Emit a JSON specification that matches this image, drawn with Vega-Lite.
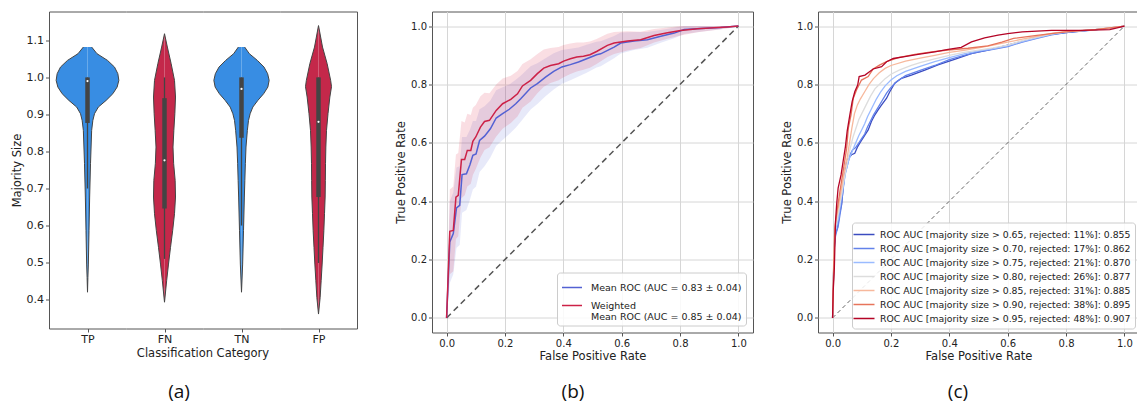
{
  "$schema": "https://vega.github.io/schema/vega-lite/v6.json",
  "padding": {"left": 11, "top": 10.5, "right": 0, "bottom": 0},
  "config": {
    "font": "DejaVu Sans",
    "view": {"stroke": "#555555", "strokeWidth": 1},
    "axis": {"labelFont": "DejaVu Sans", "titleFont": "DejaVu Sans", "labelColor": "#222222", "titleColor": "#222222", "titleFontWeight": "normal", "titleFontSize": 11.5, "labelFontSize": 10, "tickColor": "#555555", "domainColor": "#555555", "tickSize": 3.5, "labelPadding": 2, "gridColor": "#d6d6d6", "gridWidth": 1, "titlePadding": 4},
    "legend": {"labelFont": "DejaVu Sans", "labelFontSize": 9.5, "labelColor": "#222222", "symbolType": "stroke", "symbolStrokeWidth": 1.5, "symbolSize": 400, "labelLimit": 0, "fillColor": "rgba(255,255,255,0.85)", "strokeColor": "#cccccc", "cornerRadius": 3, "padding": 4, "orient": "bottom-right", "offset": 5, "rowPadding": 2, "labelOffset": 8},
    "title": {"font": "Open Sans", "fontSize": 19, "fontWeight": "normal", "color": "#111111", "anchor": "middle"}
  },
  "datasets": {
    "violin": [
      {"cat": "TP", "v": 1.082, "h": 4.15}, {"cat": "TP", "v": 1.064, "h": 9.5}, {"cat": "TP", "v": 1.046, "h": 20}, {"cat": "TP", "v": 1.028, "h": 27}, {"cat": "TP", "v": 1.01, "h": 30.35}, {"cat": "TP", "v": 0.992, "h": 31.35}, {"cat": "TP", "v": 0.974, "h": 29.65}, {"cat": "TP", "v": 0.956, "h": 25.35}, {"cat": "TP", "v": 0.938, "h": 18.65}, {"cat": "TP", "v": 0.92, "h": 10.85}, {"cat": "TP", "v": 0.902, "h": 7}, {"cat": "TP", "v": 0.884, "h": 5.35}, {"cat": "TP", "v": 0.857, "h": 4.15}, {"cat": "TP", "v": 0.767, "h": 3}, {"cat": "TP", "v": 0.677, "h": 2.15}, {"cat": "TP", "v": 0.586, "h": 1.5}, {"cat": "TP", "v": 0.496, "h": 0.85}, {"cat": "TP", "v": 0.46, "h": 0.4}, {"cat": "TP", "v": 0.42, "h": 0},
      {"cat": "FN", "v": 1.118, "h": 0}, {"cat": "FN", "v": 1.082, "h": 2.85}, {"cat": "FN", "v": 1.037, "h": 6.65}, {"cat": "FN", "v": 0.992, "h": 10}, {"cat": "FN", "v": 0.947, "h": 11}, {"cat": "FN", "v": 0.902, "h": 10.35}, {"cat": "FN", "v": 0.857, "h": 9.35}, {"cat": "FN", "v": 0.812, "h": 8.5}, {"cat": "FN", "v": 0.767, "h": 9.15}, {"cat": "FN", "v": 0.722, "h": 10.65}, {"cat": "FN", "v": 0.677, "h": 11}, {"cat": "FN", "v": 0.632, "h": 10}, {"cat": "FN", "v": 0.586, "h": 8.15}, {"cat": "FN", "v": 0.541, "h": 6}, {"cat": "FN", "v": 0.496, "h": 4}, {"cat": "FN", "v": 0.451, "h": 2.15}, {"cat": "FN", "v": 0.393, "h": 0},
      {"cat": "TN", "v": 1.082, "h": 3.15}, {"cat": "TN", "v": 1.064, "h": 7.85}, {"cat": "TN", "v": 1.046, "h": 15.85}, {"cat": "TN", "v": 1.028, "h": 22.5}, {"cat": "TN", "v": 1.01, "h": 26.15}, {"cat": "TN", "v": 0.992, "h": 27.65}, {"cat": "TN", "v": 0.974, "h": 26.35}, {"cat": "TN", "v": 0.956, "h": 22.15}, {"cat": "TN", "v": 0.938, "h": 16.35}, {"cat": "TN", "v": 0.92, "h": 11.35}, {"cat": "TN", "v": 0.902, "h": 8.65}, {"cat": "TN", "v": 0.884, "h": 7}, {"cat": "TN", "v": 0.857, "h": 5.85}, {"cat": "TN", "v": 0.812, "h": 4.5}, {"cat": "TN", "v": 0.767, "h": 3.85}, {"cat": "TN", "v": 0.722, "h": 3.35}, {"cat": "TN", "v": 0.677, "h": 2.85}, {"cat": "TN", "v": 0.586, "h": 2}, {"cat": "TN", "v": 0.496, "h": 1.15}, {"cat": "TN", "v": 0.42, "h": 0},
      {"cat": "FP", "v": 1.14, "h": 0}, {"cat": "FP", "v": 1.082, "h": 4}, {"cat": "FP", "v": 1.037, "h": 8.65}, {"cat": "FP", "v": 0.992, "h": 12.15}, {"cat": "FP", "v": 0.975, "h": 13}, {"cat": "FP", "v": 0.947, "h": 11.35}, {"cat": "FP", "v": 0.902, "h": 9.5}, {"cat": "FP", "v": 0.857, "h": 8}, {"cat": "FP", "v": 0.812, "h": 7.35}, {"cat": "FP", "v": 0.767, "h": 7}, {"cat": "FP", "v": 0.722, "h": 6.85}, {"cat": "FP", "v": 0.677, "h": 6.65}, {"cat": "FP", "v": 0.632, "h": 6}, {"cat": "FP", "v": 0.586, "h": 5.35}, {"cat": "FP", "v": 0.541, "h": 4.5}, {"cat": "FP", "v": 0.496, "h": 3.65}, {"cat": "FP", "v": 0.451, "h": 2.65}, {"cat": "FP", "v": 0.406, "h": 1.65}, {"cat": "FP", "v": 0.361, "h": 0},
      {"cat": "TP", "lo": 0.7, "q1": 0.877, "med": 0.99, "q3": 1.0, "hi": 1.0},
      {"cat": "FN", "lo": 0.51, "q1": 0.646, "med": 0.776, "q3": 0.944, "hi": 1.0},
      {"cat": "TN", "lo": 0.6, "q1": 0.837, "med": 0.969, "q3": 1.0, "hi": 1.0},
      {"cat": "FP", "lo": 0.499, "q1": 0.677, "med": 0.88, "q3": 1.0, "hi": 1.0}
    ],
    "labb": [
      {"k": "m", "s": "Mean ROC (AUC = 0.83 ± 0.04)"},
      {"k": "w", "s": "Weighted\nMean ROC (AUC = 0.85 ± 0.04)"}
    ],
    "rocb": [
      {"k": "m", "x": 0, "y": 0, "lo": 0, "hi": 0}, {"k": "m", "x": 0.011, "y": 0.26, "lo": 0.12, "hi": 0.4}, {"k": "m", "x": 0.023, "y": 0.289, "lo": 0.15, "hi": 0.43}, {"k": "m", "x": 0.034, "y": 0.377, "lo": 0.24, "hi": 0.515}, {"k": "m", "x": 0.045, "y": 0.386, "lo": 0.25, "hi": 0.52}, {"k": "m", "x": 0.053, "y": 0.491, "lo": 0.36, "hi": 0.62}, {"k": "m", "x": 0.068, "y": 0.494, "lo": 0.37, "hi": 0.62}, {"k": "m", "x": 0.08, "y": 0.525, "lo": 0.405, "hi": 0.645}, {"k": "m", "x": 0.09, "y": 0.557, "lo": 0.44, "hi": 0.675}, {"k": "m", "x": 0.101, "y": 0.562, "lo": 0.45, "hi": 0.675}, {"k": "m", "x": 0.113, "y": 0.608, "lo": 0.5, "hi": 0.715}, {"k": "m", "x": 0.13, "y": 0.623, "lo": 0.52, "hi": 0.725}, {"k": "m", "x": 0.15, "y": 0.648, "lo": 0.55, "hi": 0.745}, {"k": "m", "x": 0.17, "y": 0.685, "lo": 0.59, "hi": 0.78}, {"k": "m", "x": 0.192, "y": 0.7, "lo": 0.61, "hi": 0.79}, {"k": "m", "x": 0.215, "y": 0.715, "lo": 0.63, "hi": 0.8}, {"k": "m", "x": 0.237, "y": 0.734, "lo": 0.652, "hi": 0.816}, {"k": "m", "x": 0.254, "y": 0.751, "lo": 0.672, "hi": 0.83}, {"k": "m", "x": 0.288, "y": 0.788, "lo": 0.714, "hi": 0.862}, {"k": "m", "x": 0.311, "y": 0.803, "lo": 0.733, "hi": 0.873}, {"k": "m", "x": 0.339, "y": 0.825, "lo": 0.76, "hi": 0.89}, {"k": "m", "x": 0.367, "y": 0.845, "lo": 0.783, "hi": 0.907}, {"k": "m", "x": 0.395, "y": 0.86, "lo": 0.802, "hi": 0.918}, {"k": "m", "x": 0.424, "y": 0.868, "lo": 0.814, "hi": 0.922}, {"k": "m", "x": 0.452, "y": 0.877, "lo": 0.827, "hi": 0.927}, {"k": "m", "x": 0.48, "y": 0.888, "lo": 0.84, "hi": 0.936}, {"k": "m", "x": 0.514, "y": 0.902, "lo": 0.858, "hi": 0.946}, {"k": "m", "x": 0.528, "y": 0.905, "lo": 0.862, "hi": 0.948}, {"k": "m", "x": 0.574, "y": 0.928, "lo": 0.89, "hi": 0.966}, {"k": "m", "x": 0.597, "y": 0.942, "lo": 0.906, "hi": 0.978}, {"k": "m", "x": 0.642, "y": 0.949, "lo": 0.918, "hi": 0.98}, {"k": "m", "x": 0.688, "y": 0.953, "lo": 0.926, "hi": 0.98}, {"k": "m", "x": 0.734, "y": 0.965, "lo": 0.943, "hi": 0.987}, {"k": "m", "x": 0.78, "y": 0.976, "lo": 0.958, "hi": 0.994}, {"k": "m", "x": 0.814, "y": 0.988, "lo": 0.973, "hi": 1.0}, {"k": "m", "x": 0.871, "y": 0.992, "lo": 0.981, "hi": 1.0}, {"k": "m", "x": 0.939, "y": 0.995, "lo": 0.989, "hi": 1.0}, {"k": "m", "x": 1, "y": 1, "lo": 1, "hi": 1},
      {"k": "w", "x": 0, "y": 0, "lo": 0, "hi": 0}, {"k": "w", "x": 0.011, "y": 0.297, "lo": 0.15, "hi": 0.44}, {"k": "w", "x": 0.023, "y": 0.3, "lo": 0.16, "hi": 0.45}, {"k": "w", "x": 0.032, "y": 0.414, "lo": 0.27, "hi": 0.56}, {"k": "w", "x": 0.04, "y": 0.42, "lo": 0.28, "hi": 0.565}, {"k": "w", "x": 0.051, "y": 0.543, "lo": 0.41, "hi": 0.675}, {"k": "w", "x": 0.062, "y": 0.543, "lo": 0.42, "hi": 0.67}, {"k": "w", "x": 0.071, "y": 0.574, "lo": 0.45, "hi": 0.7}, {"k": "w", "x": 0.083, "y": 0.574, "lo": 0.46, "hi": 0.695}, {"k": "w", "x": 0.09, "y": 0.605, "lo": 0.49, "hi": 0.72}, {"k": "w", "x": 0.1, "y": 0.62, "lo": 0.51, "hi": 0.73}, {"k": "w", "x": 0.116, "y": 0.654, "lo": 0.55, "hi": 0.76}, {"k": "w", "x": 0.13, "y": 0.673, "lo": 0.575, "hi": 0.772}, {"k": "w", "x": 0.147, "y": 0.677, "lo": 0.585, "hi": 0.77}, {"k": "w", "x": 0.17, "y": 0.711, "lo": 0.622, "hi": 0.8}, {"k": "w", "x": 0.192, "y": 0.734, "lo": 0.648, "hi": 0.82}, {"k": "w", "x": 0.22, "y": 0.749, "lo": 0.668, "hi": 0.83}, {"k": "w", "x": 0.243, "y": 0.768, "lo": 0.69, "hi": 0.846}, {"k": "w", "x": 0.26, "y": 0.795, "lo": 0.72, "hi": 0.87}, {"k": "w", "x": 0.288, "y": 0.814, "lo": 0.742, "hi": 0.886}, {"k": "w", "x": 0.311, "y": 0.837, "lo": 0.77, "hi": 0.904}, {"k": "w", "x": 0.333, "y": 0.856, "lo": 0.792, "hi": 0.92}, {"k": "w", "x": 0.356, "y": 0.865, "lo": 0.805, "hi": 0.925}, {"k": "w", "x": 0.384, "y": 0.871, "lo": 0.814, "hi": 0.928}, {"k": "w", "x": 0.401, "y": 0.88, "lo": 0.825, "hi": 0.935}, {"k": "w", "x": 0.424, "y": 0.888, "lo": 0.836, "hi": 0.94}, {"k": "w", "x": 0.446, "y": 0.894, "lo": 0.844, "hi": 0.944}, {"k": "w", "x": 0.469, "y": 0.897, "lo": 0.85, "hi": 0.944}, {"k": "w", "x": 0.491, "y": 0.902, "lo": 0.857, "hi": 0.947}, {"k": "w", "x": 0.514, "y": 0.913, "lo": 0.87, "hi": 0.956}, {"k": "w", "x": 0.551, "y": 0.934, "lo": 0.894, "hi": 0.974}, {"k": "w", "x": 0.574, "y": 0.942, "lo": 0.904, "hi": 0.98}, {"k": "w", "x": 0.62, "y": 0.949, "lo": 0.916, "hi": 0.982}, {"k": "w", "x": 0.665, "y": 0.953, "lo": 0.925, "hi": 0.981}, {"k": "w", "x": 0.711, "y": 0.968, "lo": 0.944, "hi": 0.99}, {"k": "w", "x": 0.757, "y": 0.977, "lo": 0.957, "hi": 0.995}, {"k": "w", "x": 0.802, "y": 0.985, "lo": 0.968, "hi": 1.0}, {"k": "w", "x": 0.86, "y": 0.991, "lo": 0.979, "hi": 1.0}, {"k": "w", "x": 0.916, "y": 0.994, "lo": 0.986, "hi": 1.0}, {"k": "w", "x": 0.962, "y": 0.997, "lo": 0.992, "hi": 1.0}, {"k": "w", "x": 1, "y": 1, "lo": 1, "hi": 1}
    ],
    "diag": [{"x": 0, "y": 0}, {"x": 1, "y": 1}],
    "labc": [
      {"m": "65", "s": "ROC AUC [majority size > 0.65, rejected: 11%]: 0.855"},
      {"m": "70", "s": "ROC AUC [majority size > 0.70, rejected: 17%]: 0.862"},
      {"m": "75", "s": "ROC AUC [majority size > 0.75, rejected: 21%]: 0.870"},
      {"m": "80", "s": "ROC AUC [majority size > 0.80, rejected: 26%]: 0.877"},
      {"m": "85", "s": "ROC AUC [majority size > 0.85, rejected: 31%]: 0.885"},
      {"m": "90", "s": "ROC AUC [majority size > 0.90, rejected: 38%]: 0.895"},
      {"m": "95", "s": "ROC AUC [majority size > 0.95, rejected: 48%]: 0.907"}
    ],
    "rocc": [
      {"m": "65", "x": 0, "y": 0}, {"m": "65", "x": 0.002, "y": 0.1}, {"m": "65", "x": 0.006, "y": 0.25}, {"m": "65", "x": 0.01, "y": 0.29}, {"m": "65", "x": 0.017, "y": 0.308}, {"m": "65", "x": 0.023, "y": 0.353}, {"m": "65", "x": 0.031, "y": 0.388}, {"m": "65", "x": 0.036, "y": 0.445}, {"m": "65", "x": 0.042, "y": 0.502}, {"m": "65", "x": 0.048, "y": 0.536}, {"m": "65", "x": 0.054, "y": 0.547}, {"m": "65", "x": 0.065, "y": 0.559}, {"m": "65", "x": 0.076, "y": 0.564}, {"m": "65", "x": 0.086, "y": 0.587}, {"m": "65", "x": 0.093, "y": 0.599}, {"m": "65", "x": 0.111, "y": 0.627}, {"m": "65", "x": 0.122, "y": 0.644}, {"m": "65", "x": 0.133, "y": 0.673}, {"m": "65", "x": 0.145, "y": 0.696}, {"m": "65", "x": 0.156, "y": 0.713}, {"m": "65", "x": 0.168, "y": 0.73}, {"m": "65", "x": 0.185, "y": 0.753}, {"m": "65", "x": 0.196, "y": 0.775}, {"m": "65", "x": 0.213, "y": 0.804}, {"m": "65", "x": 0.236, "y": 0.821}, {"m": "65", "x": 0.27, "y": 0.832}, {"m": "65", "x": 0.316, "y": 0.849}, {"m": "65", "x": 0.361, "y": 0.867}, {"m": "65", "x": 0.418, "y": 0.886}, {"m": "65", "x": 0.475, "y": 0.906}, {"m": "65", "x": 0.532, "y": 0.918}, {"m": "65", "x": 0.6, "y": 0.935}, {"m": "65", "x": 0.66, "y": 0.95}, {"m": "65", "x": 0.7, "y": 0.962}, {"m": "65", "x": 0.75, "y": 0.972}, {"m": "65", "x": 0.8, "y": 0.978}, {"m": "65", "x": 0.9, "y": 0.988}, {"m": "65", "x": 0.95, "y": 0.992}, {"m": "65", "x": 1, "y": 1},
      {"m": "70", "x": 0, "y": 0}, {"m": "70", "x": 0.002, "y": 0.1}, {"m": "70", "x": 0.006, "y": 0.24}, {"m": "70", "x": 0.01, "y": 0.28}, {"m": "70", "x": 0.02, "y": 0.32}, {"m": "70", "x": 0.028, "y": 0.37}, {"m": "70", "x": 0.035, "y": 0.43}, {"m": "70", "x": 0.042, "y": 0.49}, {"m": "70", "x": 0.05, "y": 0.52}, {"m": "70", "x": 0.06, "y": 0.56}, {"m": "70", "x": 0.068, "y": 0.575}, {"m": "70", "x": 0.08, "y": 0.585}, {"m": "70", "x": 0.09, "y": 0.6}, {"m": "70", "x": 0.1, "y": 0.615}, {"m": "70", "x": 0.11, "y": 0.63}, {"m": "70", "x": 0.12, "y": 0.655}, {"m": "70", "x": 0.13, "y": 0.675}, {"m": "70", "x": 0.14, "y": 0.695}, {"m": "70", "x": 0.155, "y": 0.72}, {"m": "70", "x": 0.17, "y": 0.745}, {"m": "70", "x": 0.185, "y": 0.77}, {"m": "70", "x": 0.2, "y": 0.79}, {"m": "70", "x": 0.22, "y": 0.81}, {"m": "70", "x": 0.25, "y": 0.83}, {"m": "70", "x": 0.3, "y": 0.848}, {"m": "70", "x": 0.35, "y": 0.865}, {"m": "70", "x": 0.4, "y": 0.885}, {"m": "70", "x": 0.45, "y": 0.9}, {"m": "70", "x": 0.5, "y": 0.912}, {"m": "70", "x": 0.55, "y": 0.92}, {"m": "70", "x": 0.6, "y": 0.93}, {"m": "70", "x": 0.65, "y": 0.945}, {"m": "70", "x": 0.7, "y": 0.958}, {"m": "70", "x": 0.75, "y": 0.97}, {"m": "70", "x": 0.8, "y": 0.978}, {"m": "70", "x": 0.9, "y": 0.987}, {"m": "70", "x": 1, "y": 1},
      {"m": "75", "x": 0, "y": 0}, {"m": "75", "x": 0.002, "y": 0.11}, {"m": "75", "x": 0.006, "y": 0.26}, {"m": "75", "x": 0.01, "y": 0.3}, {"m": "75", "x": 0.02, "y": 0.34}, {"m": "75", "x": 0.028, "y": 0.4}, {"m": "75", "x": 0.035, "y": 0.44}, {"m": "75", "x": 0.045, "y": 0.5}, {"m": "75", "x": 0.055, "y": 0.54}, {"m": "75", "x": 0.065, "y": 0.565}, {"m": "75", "x": 0.075, "y": 0.59}, {"m": "75", "x": 0.09, "y": 0.625}, {"m": "75", "x": 0.1, "y": 0.645}, {"m": "75", "x": 0.11, "y": 0.665}, {"m": "75", "x": 0.12, "y": 0.69}, {"m": "75", "x": 0.135, "y": 0.72}, {"m": "75", "x": 0.15, "y": 0.75}, {"m": "75", "x": 0.165, "y": 0.775}, {"m": "75", "x": 0.18, "y": 0.795}, {"m": "75", "x": 0.2, "y": 0.815}, {"m": "75", "x": 0.22, "y": 0.83}, {"m": "75", "x": 0.25, "y": 0.845}, {"m": "75", "x": 0.3, "y": 0.862}, {"m": "75", "x": 0.35, "y": 0.878}, {"m": "75", "x": 0.4, "y": 0.892}, {"m": "75", "x": 0.45, "y": 0.905}, {"m": "75", "x": 0.5, "y": 0.915}, {"m": "75", "x": 0.55, "y": 0.922}, {"m": "75", "x": 0.6, "y": 0.932}, {"m": "75", "x": 0.65, "y": 0.947}, {"m": "75", "x": 0.7, "y": 0.96}, {"m": "75", "x": 0.75, "y": 0.972}, {"m": "75", "x": 0.8, "y": 0.98}, {"m": "75", "x": 0.9, "y": 0.988}, {"m": "75", "x": 1, "y": 1},
      {"m": "80", "x": 0, "y": 0}, {"m": "80", "x": 0.002, "y": 0.11}, {"m": "80", "x": 0.006, "y": 0.27}, {"m": "80", "x": 0.01, "y": 0.31}, {"m": "80", "x": 0.02, "y": 0.36}, {"m": "80", "x": 0.03, "y": 0.42}, {"m": "80", "x": 0.04, "y": 0.48}, {"m": "80", "x": 0.05, "y": 0.53}, {"m": "80", "x": 0.06, "y": 0.58}, {"m": "80", "x": 0.07, "y": 0.62}, {"m": "80", "x": 0.08, "y": 0.65}, {"m": "80", "x": 0.09, "y": 0.68}, {"m": "80", "x": 0.1, "y": 0.7}, {"m": "80", "x": 0.115, "y": 0.73}, {"m": "80", "x": 0.13, "y": 0.76}, {"m": "80", "x": 0.145, "y": 0.785}, {"m": "80", "x": 0.16, "y": 0.8}, {"m": "80", "x": 0.18, "y": 0.82}, {"m": "80", "x": 0.2, "y": 0.835}, {"m": "80", "x": 0.23, "y": 0.85}, {"m": "80", "x": 0.27, "y": 0.865}, {"m": "80", "x": 0.3, "y": 0.875}, {"m": "80", "x": 0.35, "y": 0.888}, {"m": "80", "x": 0.4, "y": 0.9}, {"m": "80", "x": 0.45, "y": 0.91}, {"m": "80", "x": 0.5, "y": 0.918}, {"m": "80", "x": 0.55, "y": 0.925}, {"m": "80", "x": 0.6, "y": 0.935}, {"m": "80", "x": 0.65, "y": 0.95}, {"m": "80", "x": 0.7, "y": 0.962}, {"m": "80", "x": 0.75, "y": 0.973}, {"m": "80", "x": 0.8, "y": 0.98}, {"m": "80", "x": 0.9, "y": 0.988}, {"m": "80", "x": 1, "y": 1},
      {"m": "85", "x": 0, "y": 0}, {"m": "85", "x": 0.002, "y": 0.12}, {"m": "85", "x": 0.006, "y": 0.28}, {"m": "85", "x": 0.01, "y": 0.33}, {"m": "85", "x": 0.02, "y": 0.38}, {"m": "85", "x": 0.03, "y": 0.44}, {"m": "85", "x": 0.04, "y": 0.5}, {"m": "85", "x": 0.05, "y": 0.55}, {"m": "85", "x": 0.058, "y": 0.6}, {"m": "85", "x": 0.066, "y": 0.65}, {"m": "85", "x": 0.075, "y": 0.7}, {"m": "85", "x": 0.085, "y": 0.73}, {"m": "85", "x": 0.095, "y": 0.75}, {"m": "85", "x": 0.11, "y": 0.775}, {"m": "85", "x": 0.125, "y": 0.8}, {"m": "85", "x": 0.14, "y": 0.82}, {"m": "85", "x": 0.16, "y": 0.84}, {"m": "85", "x": 0.18, "y": 0.855}, {"m": "85", "x": 0.2, "y": 0.865}, {"m": "85", "x": 0.25, "y": 0.88}, {"m": "85", "x": 0.3, "y": 0.89}, {"m": "85", "x": 0.35, "y": 0.9}, {"m": "85", "x": 0.4, "y": 0.91}, {"m": "85", "x": 0.45, "y": 0.917}, {"m": "85", "x": 0.5, "y": 0.925}, {"m": "85", "x": 0.55, "y": 0.935}, {"m": "85", "x": 0.6, "y": 0.945}, {"m": "85", "x": 0.65, "y": 0.955}, {"m": "85", "x": 0.7, "y": 0.965}, {"m": "85", "x": 0.75, "y": 0.975}, {"m": "85", "x": 0.8, "y": 0.982}, {"m": "85", "x": 0.9, "y": 0.988}, {"m": "85", "x": 1, "y": 1},
      {"m": "90", "x": 0, "y": 0}, {"m": "90", "x": 0.003, "y": 0.125}, {"m": "90", "x": 0.008, "y": 0.308}, {"m": "90", "x": 0.015, "y": 0.365}, {"m": "90", "x": 0.025, "y": 0.433}, {"m": "90", "x": 0.036, "y": 0.502}, {"m": "90", "x": 0.048, "y": 0.58}, {"m": "90", "x": 0.054, "y": 0.65}, {"m": "90", "x": 0.063, "y": 0.695}, {"m": "90", "x": 0.071, "y": 0.753}, {"m": "90", "x": 0.082, "y": 0.781}, {"m": "90", "x": 0.099, "y": 0.815}, {"m": "90", "x": 0.122, "y": 0.827}, {"m": "90", "x": 0.139, "y": 0.853}, {"m": "90", "x": 0.162, "y": 0.867}, {"m": "90", "x": 0.185, "y": 0.878}, {"m": "90", "x": 0.225, "y": 0.892}, {"m": "90", "x": 0.282, "y": 0.903}, {"m": "90", "x": 0.339, "y": 0.912}, {"m": "90", "x": 0.396, "y": 0.918}, {"m": "90", "x": 0.464, "y": 0.924}, {"m": "90", "x": 0.532, "y": 0.932}, {"m": "90", "x": 0.58, "y": 0.945}, {"m": "90", "x": 0.62, "y": 0.958}, {"m": "90", "x": 0.7, "y": 0.968}, {"m": "90", "x": 0.8, "y": 0.98}, {"m": "90", "x": 0.9, "y": 0.988}, {"m": "90", "x": 1, "y": 1},
      {"m": "95", "x": 0, "y": 0}, {"m": "95", "x": 0.002, "y": 0.09}, {"m": "95", "x": 0.006, "y": 0.17}, {"m": "95", "x": 0.01, "y": 0.33}, {"m": "95", "x": 0.014, "y": 0.39}, {"m": "95", "x": 0.019, "y": 0.445}, {"m": "95", "x": 0.029, "y": 0.49}, {"m": "95", "x": 0.036, "y": 0.536}, {"m": "95", "x": 0.044, "y": 0.587}, {"m": "95", "x": 0.05, "y": 0.64}, {"m": "95", "x": 0.059, "y": 0.695}, {"m": "95", "x": 0.067, "y": 0.741}, {"m": "95", "x": 0.076, "y": 0.775}, {"m": "95", "x": 0.086, "y": 0.798}, {"m": "95", "x": 0.091, "y": 0.827}, {"m": "95", "x": 0.111, "y": 0.832}, {"m": "95", "x": 0.139, "y": 0.853}, {"m": "95", "x": 0.168, "y": 0.861}, {"m": "95", "x": 0.185, "y": 0.878}, {"m": "95", "x": 0.208, "y": 0.889}, {"m": "95", "x": 0.247, "y": 0.895}, {"m": "95", "x": 0.293, "y": 0.903}, {"m": "95", "x": 0.35, "y": 0.912}, {"m": "95", "x": 0.396, "y": 0.92}, {"m": "95", "x": 0.441, "y": 0.927}, {"m": "95", "x": 0.476, "y": 0.946}, {"m": "95", "x": 0.521, "y": 0.96}, {"m": "95", "x": 0.567, "y": 0.969}, {"m": "95", "x": 0.6, "y": 0.974}, {"m": "95", "x": 0.65, "y": 0.98}, {"m": "95", "x": 0.75, "y": 0.985}, {"m": "95", "x": 0.85, "y": 0.985}, {"m": "95", "x": 0.95, "y": 0.988}, {"m": "95", "x": 1, "y": 1}
    ]
  },
  "spacing": 38,
  "resolve": {"scale": {"color": "independent", "fill": "independent"}, "legend": {"color": "independent", "fill": "independent"}},
  "hconcat": [
    {
      "data": {"name": "violin"},
      "spacing": 0,
      "bounds": "flush",
      "hconcat": [
        {
          "width": 77, "height": 317, "view": {"stroke": null},
          "transform": [{"filter": "datum.cat == 'TP'"}],
          "resolve": {"scale": {"x": "independent"}, "axis": {"x": "independent", "y": "independent"}},
          "layer": [
            {"transform": [{"filter": "datum.h != null"}], "mark": {"type": "area", "orient": "horizontal", "color": "#388de3"},
             "encoding": {"y": {"field": "v", "type": "quantitative", "scale": {"domain": [0.322, 1.178], "nice": false, "zero": false}, "axis": {"values": [0.4, 0.5, 0.6, 0.7, 0.8, 0.9, 1.0, 1.1], "format": ".1f", "labelFontSize": 11, "title": "Majority Size", "grid": false, "domain": true}},
               "x": {"field": "h", "type": "quantitative", "scale": {"domain": [-38.5, 38.5], "nice": false, "zero": false}, "axis": {"values": [0], "labels": false, "title": "TP", "titleFontSize": 11, "titlePadding": 1, "grid": false, "domain": true, "ticks": true}},
               "x2": {"datum": 0}}},
            {"transform": [{"filter": "datum.h != null"}], "mark": {"type": "area", "orient": "horizontal", "color": "#388de3"},
             "encoding": {"y": {"field": "v", "type": "quantitative", "axis": null},
               "x": {"field": "h", "type": "quantitative", "scale": {"domain": [-38.5, 38.5], "nice": false, "zero": false, "reverse": true}, "axis": {"orient": "top", "labels": false, "ticks": false, "title": null, "grid": false, "domain": true}},
               "x2": {"datum": 0}}},
            {"transform": [{"filter": "datum.h != null"}], "mark": {"type": "line", "color": "#444444", "strokeWidth": 1},
             "encoding": {"y": {"field": "v", "type": "quantitative", "axis": null}, "x": {"field": "h", "type": "quantitative", "scale": {"domain": [-38.5, 38.5], "nice": false, "zero": false}, "axis": null}, "order": {"field": "v", "type": "quantitative"}}},
            {"transform": [{"filter": "datum.h != null"}], "mark": {"type": "line", "color": "#444444", "strokeWidth": 1},
             "encoding": {"y": {"field": "v", "type": "quantitative", "axis": null}, "x": {"field": "h", "type": "quantitative", "scale": {"domain": [-38.5, 38.5], "nice": false, "zero": false, "reverse": true}, "axis": null}, "order": {"field": "v", "type": "quantitative"}}},
            {"transform": [{"filter": "datum.lo != null"}], "mark": {"type": "rule", "color": "#444444", "strokeWidth": 1.3},
             "encoding": {"x": {"datum": 0, "type": "quantitative", "scale": {"domain": [-38.5, 38.5], "nice": false, "zero": false}, "axis": null}, "y": {"field": "lo", "type": "quantitative", "axis": null}, "y2": {"field": "hi"}}},
            {"transform": [{"filter": "datum.lo != null"}], "mark": {"type": "rule", "color": "#444444", "strokeWidth": 4.5, "strokeCap": "butt"},
             "encoding": {"x": {"datum": 0, "type": "quantitative", "scale": {"domain": [-38.5, 38.5], "nice": false, "zero": false}, "axis": null}, "y": {"field": "q1", "type": "quantitative", "axis": null}, "y2": {"field": "q3"}}},
            {"transform": [{"filter": "datum.lo != null"}], "mark": {"type": "point", "filled": true, "color": "white", "size": 5, "opacity": 1},
             "encoding": {"x": {"datum": 0, "type": "quantitative", "scale": {"domain": [-38.5, 38.5], "nice": false, "zero": false}, "axis": null}, "y": {"field": "med", "type": "quantitative", "axis": null}}}
          ]
        },
        {
          "width": 77, "height": 317, "view": {"stroke": null},
          "title": {"text": "(a)", "orient": "bottom", "anchor": "middle", "frame": "group", "dx": 14.5, "offset": 38},
          "transform": [{"filter": "datum.cat == 'FN'"}],
          "resolve": {"scale": {"x": "independent"}, "axis": {"x": "independent", "y": "independent"}},
          "layer": [
            {"transform": [{"filter": "datum.h != null"}], "mark": {"type": "area", "orient": "horizontal", "color": "#c4284a"},
             "encoding": {"y": {"field": "v", "type": "quantitative", "scale": {"domain": [0.322, 1.178], "nice": false, "zero": false}, "axis": null},
               "x": {"field": "h", "type": "quantitative", "scale": {"domain": [-38.5, 38.5], "nice": false, "zero": false}, "axis": {"values": [0], "labels": false, "title": "FN", "titleFontSize": 11, "titlePadding": 1, "grid": false, "domain": true, "ticks": true}},
               "x2": {"datum": 0}}},
            {"transform": [{"filter": "datum.h != null"}], "mark": {"type": "area", "orient": "horizontal", "color": "#c4284a"},
             "encoding": {"y": {"field": "v", "type": "quantitative", "axis": null},
               "x": {"field": "h", "type": "quantitative", "scale": {"domain": [-38.5, 38.5], "nice": false, "zero": false, "reverse": true}, "axis": {"orient": "top", "labels": false, "ticks": false, "title": null, "grid": false, "domain": true}},
               "x2": {"datum": 0}}},
            {"transform": [{"filter": "datum.h != null"}], "mark": {"type": "line", "color": "#444444", "strokeWidth": 1},
             "encoding": {"y": {"field": "v", "type": "quantitative", "axis": null}, "x": {"field": "h", "type": "quantitative", "scale": {"domain": [-38.5, 38.5], "nice": false, "zero": false}, "axis": null}, "order": {"field": "v", "type": "quantitative"}}},
            {"transform": [{"filter": "datum.h != null"}], "mark": {"type": "line", "color": "#444444", "strokeWidth": 1},
             "encoding": {"y": {"field": "v", "type": "quantitative", "axis": null}, "x": {"field": "h", "type": "quantitative", "scale": {"domain": [-38.5, 38.5], "nice": false, "zero": false, "reverse": true}, "axis": null}, "order": {"field": "v", "type": "quantitative"}}},
            {"transform": [{"filter": "datum.lo != null"}], "mark": {"type": "rule", "color": "#444444", "strokeWidth": 1.3},
             "encoding": {"x": {"datum": 0, "type": "quantitative", "scale": {"domain": [-38.5, 38.5], "nice": false, "zero": false}, "axis": null}, "y": {"field": "lo", "type": "quantitative", "axis": null}, "y2": {"field": "hi"}}},
            {"transform": [{"filter": "datum.lo != null"}], "mark": {"type": "rule", "color": "#444444", "strokeWidth": 4.5, "strokeCap": "butt"},
             "encoding": {"x": {"datum": 0, "type": "quantitative", "scale": {"domain": [-38.5, 38.5], "nice": false, "zero": false}, "axis": null}, "y": {"field": "q1", "type": "quantitative", "axis": null}, "y2": {"field": "q3"}}},
            {"transform": [{"filter": "datum.lo != null"}], "mark": {"type": "point", "filled": true, "color": "white", "size": 5, "opacity": 1},
             "encoding": {"x": {"datum": 0, "type": "quantitative", "scale": {"domain": [-38.5, 38.5], "nice": false, "zero": false}, "axis": null}, "y": {"field": "med", "type": "quantitative", "axis": null}}}
          ]
        },
        {
          "width": 77, "height": 317, "view": {"stroke": null},
          "title": {"text": "Classification Category", "orient": "bottom", "anchor": "middle", "frame": "group", "dx": -38.5, "offset": 3, "font": "DejaVu Sans", "fontSize": 11.5, "color": "#222222"},
          "transform": [{"filter": "datum.cat == 'TN'"}],
          "resolve": {"scale": {"x": "independent"}, "axis": {"x": "independent", "y": "independent"}},
          "layer": [
            {"transform": [{"filter": "datum.h != null"}], "mark": {"type": "area", "orient": "horizontal", "color": "#388de3"},
             "encoding": {"y": {"field": "v", "type": "quantitative", "scale": {"domain": [0.322, 1.178], "nice": false, "zero": false}, "axis": null},
               "x": {"field": "h", "type": "quantitative", "scale": {"domain": [-38.5, 38.5], "nice": false, "zero": false}, "axis": {"values": [0], "labels": false, "title": "TN", "titleFontSize": 11, "titlePadding": 1, "grid": false, "domain": true, "ticks": true}},
               "x2": {"datum": 0}}},
            {"transform": [{"filter": "datum.h != null"}], "mark": {"type": "area", "orient": "horizontal", "color": "#388de3"},
             "encoding": {"y": {"field": "v", "type": "quantitative", "axis": null},
               "x": {"field": "h", "type": "quantitative", "scale": {"domain": [-38.5, 38.5], "nice": false, "zero": false, "reverse": true}, "axis": {"orient": "top", "labels": false, "ticks": false, "title": null, "grid": false, "domain": true}},
               "x2": {"datum": 0}}},
            {"transform": [{"filter": "datum.h != null"}], "mark": {"type": "line", "color": "#444444", "strokeWidth": 1},
             "encoding": {"y": {"field": "v", "type": "quantitative", "axis": null}, "x": {"field": "h", "type": "quantitative", "scale": {"domain": [-38.5, 38.5], "nice": false, "zero": false}, "axis": null}, "order": {"field": "v", "type": "quantitative"}}},
            {"transform": [{"filter": "datum.h != null"}], "mark": {"type": "line", "color": "#444444", "strokeWidth": 1},
             "encoding": {"y": {"field": "v", "type": "quantitative", "axis": null}, "x": {"field": "h", "type": "quantitative", "scale": {"domain": [-38.5, 38.5], "nice": false, "zero": false, "reverse": true}, "axis": null}, "order": {"field": "v", "type": "quantitative"}}},
            {"transform": [{"filter": "datum.lo != null"}], "mark": {"type": "rule", "color": "#444444", "strokeWidth": 1.3},
             "encoding": {"x": {"datum": 0, "type": "quantitative", "scale": {"domain": [-38.5, 38.5], "nice": false, "zero": false}, "axis": null}, "y": {"field": "lo", "type": "quantitative", "axis": null}, "y2": {"field": "hi"}}},
            {"transform": [{"filter": "datum.lo != null"}], "mark": {"type": "rule", "color": "#444444", "strokeWidth": 4.5, "strokeCap": "butt"},
             "encoding": {"x": {"datum": 0, "type": "quantitative", "scale": {"domain": [-38.5, 38.5], "nice": false, "zero": false}, "axis": null}, "y": {"field": "q1", "type": "quantitative", "axis": null}, "y2": {"field": "q3"}}},
            {"transform": [{"filter": "datum.lo != null"}], "mark": {"type": "point", "filled": true, "color": "white", "size": 5, "opacity": 1},
             "encoding": {"x": {"datum": 0, "type": "quantitative", "scale": {"domain": [-38.5, 38.5], "nice": false, "zero": false}, "axis": null}, "y": {"field": "med", "type": "quantitative", "axis": null}}}
          ]
        },
        {
          "width": 77, "height": 317, "view": {"stroke": null},
          "transform": [{"filter": "datum.cat == 'FP'"}],
          "resolve": {"scale": {"x": "independent"}, "axis": {"x": "independent", "y": "independent"}},
          "layer": [
            {"transform": [{"filter": "datum.h != null"}], "mark": {"type": "area", "orient": "horizontal", "color": "#c4284a"},
             "encoding": {"y": {"field": "v", "type": "quantitative", "scale": {"domain": [0.322, 1.178], "nice": false, "zero": false}, "axis": {"orient": "right", "labels": false, "ticks": false, "title": null, "grid": false, "domain": true}},
               "x": {"field": "h", "type": "quantitative", "scale": {"domain": [-38.5, 38.5], "nice": false, "zero": false}, "axis": {"values": [0], "labels": false, "title": "FP", "titleFontSize": 11, "titlePadding": 1, "grid": false, "domain": true, "ticks": true}},
               "x2": {"datum": 0}}},
            {"transform": [{"filter": "datum.h != null"}], "mark": {"type": "area", "orient": "horizontal", "color": "#c4284a"},
             "encoding": {"y": {"field": "v", "type": "quantitative", "axis": null},
               "x": {"field": "h", "type": "quantitative", "scale": {"domain": [-38.5, 38.5], "nice": false, "zero": false, "reverse": true}, "axis": {"orient": "top", "labels": false, "ticks": false, "title": null, "grid": false, "domain": true}},
               "x2": {"datum": 0}}},
            {"transform": [{"filter": "datum.h != null"}], "mark": {"type": "line", "color": "#444444", "strokeWidth": 1},
             "encoding": {"y": {"field": "v", "type": "quantitative", "axis": null}, "x": {"field": "h", "type": "quantitative", "scale": {"domain": [-38.5, 38.5], "nice": false, "zero": false}, "axis": null}, "order": {"field": "v", "type": "quantitative"}}},
            {"transform": [{"filter": "datum.h != null"}], "mark": {"type": "line", "color": "#444444", "strokeWidth": 1},
             "encoding": {"y": {"field": "v", "type": "quantitative", "axis": null}, "x": {"field": "h", "type": "quantitative", "scale": {"domain": [-38.5, 38.5], "nice": false, "zero": false, "reverse": true}, "axis": null}, "order": {"field": "v", "type": "quantitative"}}},
            {"transform": [{"filter": "datum.lo != null"}], "mark": {"type": "rule", "color": "#444444", "strokeWidth": 1.3},
             "encoding": {"x": {"datum": 0, "type": "quantitative", "scale": {"domain": [-38.5, 38.5], "nice": false, "zero": false}, "axis": null}, "y": {"field": "lo", "type": "quantitative", "axis": null}, "y2": {"field": "hi"}}},
            {"transform": [{"filter": "datum.lo != null"}], "mark": {"type": "rule", "color": "#444444", "strokeWidth": 4.5, "strokeCap": "butt"},
             "encoding": {"x": {"datum": 0, "type": "quantitative", "scale": {"domain": [-38.5, 38.5], "nice": false, "zero": false}, "axis": null}, "y": {"field": "q1", "type": "quantitative", "axis": null}, "y2": {"field": "q3"}}},
            {"transform": [{"filter": "datum.lo != null"}], "mark": {"type": "point", "filled": true, "color": "white", "size": 5, "opacity": 1},
             "encoding": {"x": {"datum": 0, "type": "quantitative", "scale": {"domain": [-38.5, 38.5], "nice": false, "zero": false}, "axis": null}, "y": {"field": "med", "type": "quantitative", "axis": null}}}
          ]
        }
      ]
    },
    {
      "spacing": 65,
      "bounds": "flush",
      "resolve": {"scale": {"color": "independent", "fill": "independent"}, "legend": {"color": "independent", "fill": "independent"}},
      "hconcat": [
        {
          "width": 321,
          "height": 321,
          "title": {"text": "(b)", "orient": "bottom", "anchor": "middle", "frame": "group", "dx": -19.5, "offset": 21},
          "layer": [
            {
              "data": {"name": "rocb"},
              "mark": {"type": "area", "opacity": 0.14},
              "encoding": {
                "x": {"field": "x", "type": "quantitative", "scale": {"domain": [-0.05, 1.05], "nice": false, "zero": false}, "axis": {"values": [0, 0.2, 0.4, 0.6, 0.8, 1.0], "format": ".1f", "grid": true, "domain": false, "title": "False Positive Rate", "titlePadding": 2}},
                "y": {"field": "lo", "type": "quantitative", "stack": null, "scale": {"domain": [-0.05, 1.05], "nice": false, "zero": false}, "axis": {"values": [0, 0.2, 0.4, 0.6, 0.8, 1.0], "format": ".1f", "grid": true, "domain": false, "title": "True Positive Rate"}},
                "y2": {"field": "hi"},
                "fill": {"field": "k", "type": "nominal", "scale": {"domain": ["m", "w"], "range": ["#5361d3", "#dc143c"]}, "legend": null}
              }
            },
            {
              "data": {"name": "diag"},
              "mark": {"type": "line", "color": "#555555", "strokeWidth": 1.5, "strokeDash": [6, 4]},
              "encoding": {
                "x": {"field": "x", "type": "quantitative", "axis": {"values": [0, 0.2, 0.4, 0.6, 0.8, 1.0], "format": ".1f", "grid": true, "domain": false, "title": "False Positive Rate", "titlePadding": 2}},
                "y": {"field": "y", "type": "quantitative", "axis": {"values": [0, 0.2, 0.4, 0.6, 0.8, 1.0], "format": ".1f", "grid": true, "domain": false, "title": "True Positive Rate"}}
              }
            },
            {
              "data": {"name": "rocb"},
              "transform": [{"lookup": "k", "from": {"data": {"name": "labb"}, "key": "k", "fields": ["s"]}}],
              "mark": {"type": "line", "strokeWidth": 1.5},
              "encoding": {
                "x": {"field": "x", "type": "quantitative", "axis": {"values": [0, 0.2, 0.4, 0.6, 0.8, 1.0], "format": ".1f", "grid": true, "domain": false, "title": "False Positive Rate", "titlePadding": 2}},
                "y": {"field": "y", "type": "quantitative", "axis": {"values": [0, 0.2, 0.4, 0.6, 0.8, 1.0], "format": ".1f", "grid": true, "domain": false, "title": "True Positive Rate"}},
                "color": {"field": "s", "type": "nominal", "scale": {"domain": ["Mean ROC (AUC = 0.83 ± 0.04)", "Weighted\nMean ROC (AUC = 0.85 ± 0.04)"], "range": ["#5361d3", "#cc2147"]}, "legend": {"title": null, "labelExpr": "split(datum.label, '\\n')", "offset": 7}}
              }
            }
          ]
        },
        {
          "width": 321,
          "height": 321,
          "title": {"text": "(c)", "orient": "bottom", "anchor": "middle", "frame": "group", "dx": -20.5, "offset": 21},
          "layer": [
            {
              "data": {"name": "diag"},
              "mark": {"type": "line", "color": "#666666", "strokeWidth": 1, "strokeDash": [4, 3]},
              "encoding": {
                "x": {"field": "x", "type": "quantitative", "scale": {"domain": [-0.05, 1.05], "nice": false, "zero": false}, "axis": {"values": [0, 0.2, 0.4, 0.6, 0.8, 1.0], "format": ".1f", "grid": true, "domain": false, "title": "False Positive Rate", "titlePadding": 2}},
                "y": {"field": "y", "type": "quantitative", "scale": {"domain": [-0.05, 1.05], "nice": false, "zero": false}, "axis": {"values": [0, 0.2, 0.4, 0.6, 0.8, 1.0], "format": ".1f", "grid": true, "domain": false, "title": "True Positive Rate"}}
              }
            },
            {
              "data": {"name": "rocc"},
              "transform": [{"lookup": "m", "from": {"data": {"name": "labc"}, "key": "m", "fields": ["s"]}}],
              "mark": {"type": "line", "strokeWidth": 1.3},
              "encoding": {
                "x": {"field": "x", "type": "quantitative", "axis": {"values": [0, 0.2, 0.4, 0.6, 0.8, 1.0], "format": ".1f", "grid": true, "domain": false, "title": "False Positive Rate", "titlePadding": 2}},
                "y": {"field": "y", "type": "quantitative", "axis": {"values": [0, 0.2, 0.4, 0.6, 0.8, 1.0], "format": ".1f", "grid": true, "domain": false, "title": "True Positive Rate"}},
                "color": {"field": "s", "type": "nominal", "scale": {"domain": ["ROC AUC [majority size > 0.65, rejected: 11%]: 0.855", "ROC AUC [majority size > 0.70, rejected: 17%]: 0.862", "ROC AUC [majority size > 0.75, rejected: 21%]: 0.870", "ROC AUC [majority size > 0.80, rejected: 26%]: 0.877", "ROC AUC [majority size > 0.85, rejected: 31%]: 0.885", "ROC AUC [majority size > 0.90, rejected: 38%]: 0.895", "ROC AUC [majority size > 0.95, rejected: 48%]: 0.907"], "range": ["#3b4cc0", "#6282ea", "#9abbff", "#dddddd", "#f7b89c", "#e7745b", "#b40426"]}, "legend": {"title": null, "labelFontSize": 9.3, "offset": 4, "rowPadding": 0, "symbolType": "M-1.5,0H1.5", "symbolSize": 196}}
              }
            }
          ]
        }
      ]
    }
  ]
}
